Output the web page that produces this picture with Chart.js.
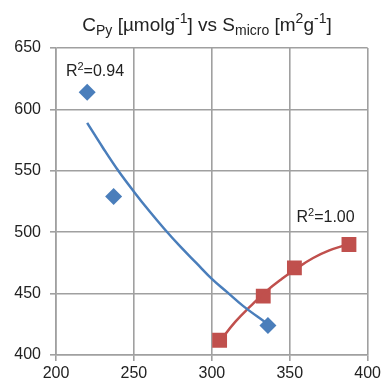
<!DOCTYPE html>
<html>
<head>
<meta charset="utf-8">
<script src="https://cdn.jsdelivr.net/npm/chart.js@4/dist/chart.umd.min.js"></script>
<style>
  html, body { margin: 0; padding: 0; background: #fff; }
  #wrap { width: 384px; height: 383px; }
</style>
</head>
<body>
<div id="wrap"><canvas id="myChart"></canvas></div>
<script>
'use strict';

// measured points
const blueX = [220, 237, 336];
const blueY = [614, 529, 424];
const redX = [305, 333, 353, 388];
const redY = [412, 448, 471, 490];

// trendlines
const blueFitX = [220, 230, 240, 250, 260, 270, 280, 290, 300, 310, 320, 335];
const blueFitY = [589, 569, 550, 533, 517, 502, 488, 475, 462, 451, 440, 426];
const redFitX = [305, 315, 325, 335, 345, 355, 365, 375, 387];
const redFitY = [411, 427, 440, 452, 462, 471, 479, 485, 490];

const xTicks = [200, 250, 300, 350, 400];
const yTicks = [400, 450, 500, 550, 600, 650];
const r2Values = ['0.94', '1.00'];

const BLUE = '#4a7ebb';
const RED = '#c0504d';
const GRID = '#a0a0a0';
const TEXT = '#222';
const FONT = '"Liberation Sans", Arial, sans-serif';

const toXY = (xs, ys) => xs.map((x, i) => ({ x: x, y: ys[i] }));

// text with sub/superscripts
function drawRich(c, parts, x, y, size, align, ratio) {
  const small = Math.round(size * (ratio || 0.7));
  const fontOf = k => (k ? small : size) + 'px ' + FONT;
  let w = 0;
  parts.forEach(([t, k]) => { c.font = fontOf(k); w += c.measureText(t).width; });
  let cx = align === 'center' ? x - w / 2 : x;
  c.save();
  c.fillStyle = TEXT;
  c.textBaseline = 'alphabetic';
  c.textAlign = 'left';
  parts.forEach(([t, k]) => {
    c.font = fontOf(k);
    const dy = k === 'sub' ? size * 0.22 : (k === 'sup' ? -size * 0.4 : 0);
    c.fillText(t, cx, y + dy);
    cx += c.measureText(t).width;
  });
  c.restore();
}

const titleParts = [['C', ''], ['Py', 'sub'], [' [µmolg', ''], ['-1', 'sup'], ['] vs S', ''],
  ['micro', 'sub'], [' [m', ''], ['2', 'sup'], ['g', ''], ['-1', 'sup'], [']', '']];

const textPlugin = {
  id: 'texts',
  afterDraw(chart) {
    const c = chart.ctx;
    const xs = chart.scales.x, ys = chart.scales.y;
    drawRich(c, titleParts, 207, 31, 19, 'center', 0.74);
    drawRich(c, [['R', ''], ['2', 'sup'], ['=' + r2Values[0], '']],
      xs.getPixelForValue(225), ys.getPixelForValue(627), 16, 'center');
    drawRich(c, [['R', ''], ['2', 'sup'], ['=' + r2Values[1], '']],
      xs.getPixelForValue(373), ys.getPixelForValue(508), 16, 'center');
  }
};

const axisCommon = {
  grid: { color: GRID, lineWidth: 1.6, tickColor: GRID, tickLength: 6, drawTicks: true },
  border: { color: GRID, width: 1.6 },
  ticks: { color: TEXT, font: { family: FONT, size: 16 } }
};

const data = {
  datasets: [
    {
      data: toXY(blueFitX, blueFitY),
      showLine: true,
      borderColor: BLUE,
      borderWidth: 2.5,
      pointRadius: 0,
      tension: 0.4,
      order: 0
    },
    {
      data: toXY(redFitX, redFitY),
      showLine: true,
      borderColor: RED,
      borderWidth: 2.5,
      pointRadius: 0,
      tension: 0.4,
      order: 0
    },
    {
      data: toXY(blueX, blueY),
      pointStyle: 'rectRot',
      pointRadius: 8.5,
      backgroundColor: BLUE,
      borderWidth: 0,
      order: 1
    },
    {
      data: toXY(redX, redY),
      pointStyle: 'rect',
      pointRadius: 10.5,
      backgroundColor: RED,
      borderWidth: 0,
      order: 1
    }
  ]
};

const options = {
  responsive: true,
  maintainAspectRatio: false,
  animation: false,
  layout: { padding: { top: 48, right: 16, bottom: 0, left: 0 } },
  plugins: { legend: { display: false }, tooltip: { enabled: false }, title: { display: false } },
  scales: {
    x: {
      type: 'linear',
      min: xTicks[0],
      max: xTicks[xTicks.length - 1],
      grid: axisCommon.grid,
      border: axisCommon.border,
      ticks: Object.assign({ padding: 3 }, axisCommon.ticks),
      afterBuildTicks: s => { s.ticks = xTicks.map(v => ({ value: v })); },
      afterFit: s => { s.height = 28; }
    },
    y: {
      type: 'linear',
      min: yTicks[0],
      max: yTicks[yTicks.length - 1],
      grid: axisCommon.grid,
      border: axisCommon.border,
      ticks: Object.assign({ padding: 9 }, axisCommon.ticks),
      afterBuildTicks: s => { s.ticks = yTicks.map(v => ({ value: v })); },
      afterFit: s => { s.width = 56; }
    }
  }
};

const chart = new Chart(document.getElementById('myChart'), {
  type: 'scatter',
  data: data,
  options: options,
  plugins: [textPlugin]
});
</script>
</body>
</html>
